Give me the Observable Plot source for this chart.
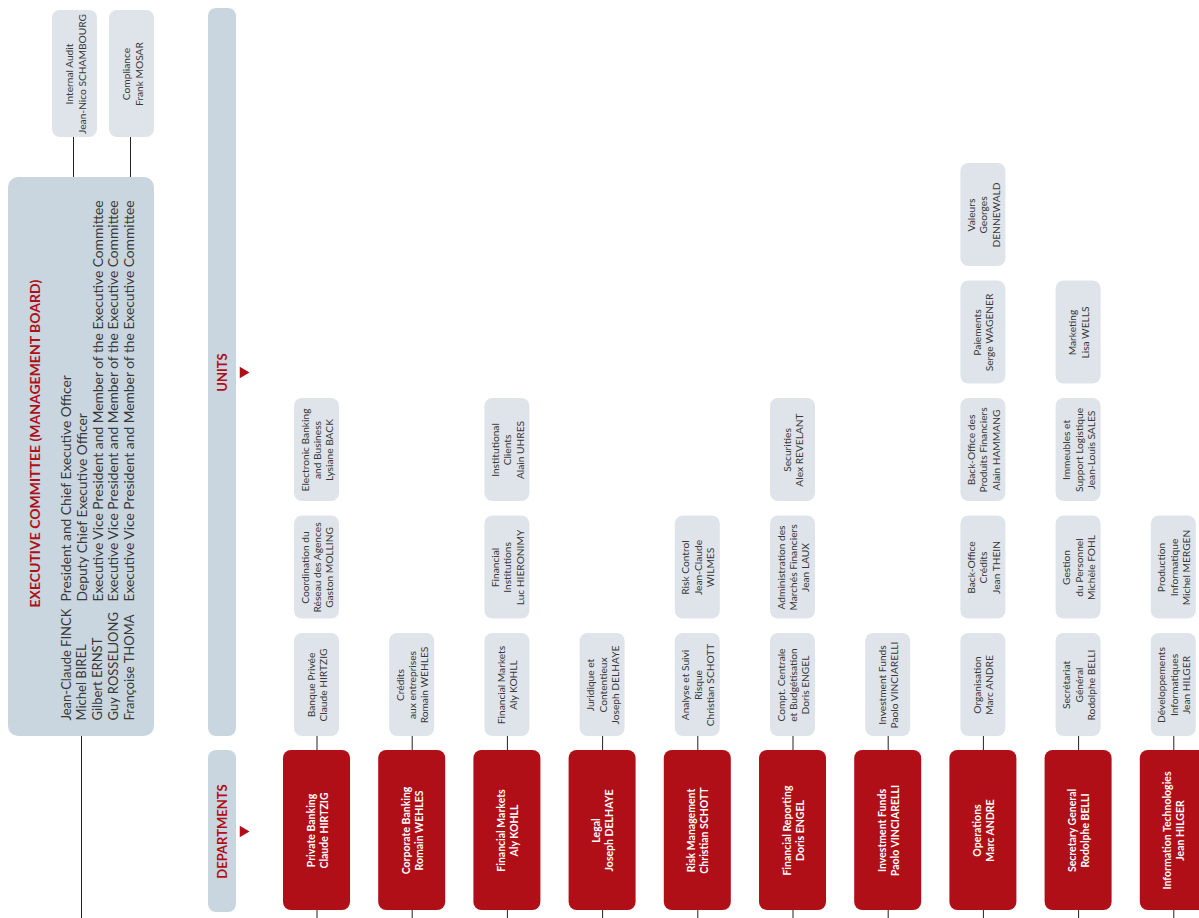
<!DOCTYPE html>
<html><head><meta charset="utf-8">
<script src="https://cdn.jsdelivr.net/npm/d3@7"></script>
<script src="https://cdn.jsdelivr.net/npm/@observablehq/plot@0.6"></script>
<style>body{margin:0;background:#fff}</style>
</head><body><div id="chart"></div>
<script>
// ---- data ----
const deptNames = ["Private Banking","Corporate Banking","Financial Markets","Legal","Risk Management","Financial Reporting","Investment Funds","Operations","Secretary General","Information Technologies"];
const deptHeads = ["Claude HIRTZIG","Romain WEHLES","Aly KOHLL","Joseph DELHAYE","Christian SCHOTT","Doris ENGEL","Paolo VINCIARELLI","Marc ANDRE","Rodolphe BELLI","Jean HILGER"];
const unitsPrivateBanking = ["Banque Privée\nClaude HIRTZIG","Coordination du\nRéseau des Agences\nGaston MOLLING","Electronic Banking\nand Business\nLysiane BACK"];
const unitsCorporateBanking = ["Crédits\naux entreprises\nRomain WEHLES"];
const unitsFinancialMarkets = ["Financial Markets\nAly KOHLL","Financial\nInstitutions\nLuc HIERONIMY","Institutional\nClients\nAlain UHRES"];
const unitsLegal = ["Juridique et\nContentieux\nJoseph DELHAYE"];
const unitsRisk = ["Analyse et Suivi\nRisque\nChristian SCHOTT","Risk Control\nJean-Claude\nWILMES"];
const unitsReporting = ["Compt. Centrale\net Budgétisation\nDoris ENGEL","Administration des\nMarchés Financiers\nJean LAUX","Securities\nAlex REVELANT"];
const unitsFunds = ["Investment Funds\nPaolo VINCIARELLI"];
const unitsOperations = ["Organisation\nMarc ANDRE","Back-Office\nCrédits\nJean THEIN","Back-Office des\nProduits Financiers\nAlain HAMMANG","Paiements\nSerge WAGENER","Valeurs\nGeorges\nDENNEWALD"];
const unitsSecretary = ["Secrétariat\nGénéral\nRodolphe BELLI","Gestion\ndu Personnel\nMichèle FOHL","Immeubles et\nSupport Logistique\nJean-Louis SALES","Marketing\nLisa WELLS"];
const unitsIT = ["Développements\nInformatiques\nJean HILGER","Production\nInformatique\nMichel MERGEN"];
const units = [unitsPrivateBanking,unitsCorporateBanking,unitsFinancialMarkets,unitsLegal,unitsRisk,unitsReporting,unitsFunds,unitsOperations,unitsSecretary,unitsIT];
const execTitle = "EXECUTIVE COMMITTEE (MANAGEMENT BOARD)";
const execNames = ["Jean-Claude FINCK","Michel BIREL","Gilbert ERNST","Guy ROSSELJONG","Françoise THOMA"];
const execRoles = ["President and Chief Executive Officer","Deputy Chief Executive Officer","Executive Vice President and Member of the Executive Committee","Executive Vice President and Member of the Executive Committee","Executive Vice President and Member of the Executive Committee"];
const staffFunctions = ["Internal Audit\nJean-Nico SCHAMBOURG","Compliance\nFrank MOSAR"];
const sectionLabels = ["UNITS","DEPARTMENTS"];

// ---- layout ----
const W = 1199, H = 918;
const RED = "#b00f17", PANEL = "#c9d5df", UNIT = "#dfe4ea", INK = "#383838";
const colX = i => 316.5 + 95.2 * i;
const slotTop = k => 633 - 117.5 * k;
const unitH = 103, unitW = 45, deptW = 67, deptTop = 750, deptBot = 910;
const execBox = {x1: 8, x2: 154, y1: 177, y2: 736};
const staffX = i => 74.5 + 57 * i;
const panelX1 = 208, panelX2 = 236;
const panels = [{label: sectionLabels[0], y1: 8, y2: 736, ly: 372}, {label: sectionLabels[1], y1: 750, y2: 912, ly: 831}];

const depts = deptNames.map((n, i) => ({label: n + "\n" + deptHeads[i], x: colX(i)}));
const unitRows = units.flatMap((list, i) => list.map((u, k) => ({label: u, x: colX(i), y1: slotTop(k), y2: slotTop(k) + unitH})));
const staff = staffFunctions.map((s, i) => ({label: s, x: staffX(i)}));
const execRows = execNames.map((n, i) => ({name: n, role: execRoles[i], x: 66 + 15.8 * i}));

const font = "Lato, 'Open Sans', sans-serif";
const chart = Plot.plot({
  width: W, height: H, margin: 0,
  x: {domain: [0, W], range: [0, W], axis: null},
  y: {domain: [0, H], range: [0, H], axis: null},
  style: {fontFamily: font, background: "#fff"},
  marks: [
    // staff boxes
    Plot.ruleX(staff, {x: d => d.x - 1.5, y1: 137, y2: execBox.y1, stroke: "#222", strokeWidth: 1}),
    Plot.rect(staff, {x1: d => d.x - 22.5, x2: d => d.x + 22.5, y1: 10, y2: 137, fill: UNIT, rx: 8}),
    Plot.text(staff, {x: "x", y: 73.5, text: "label", rotate: -90, fontSize: 10.2, lineHeight: 1.3, fill: INK}),
    // exec committee
    Plot.ruleX([execBox], {x: d => (d.x1 + d.x2) / 2, y1: d => d.y2, y2: H, stroke: "#222", strokeWidth: 1}),
    Plot.rect([execBox], {x1: "x1", x2: "x2", y1: "y1", y2: "y2", fill: PANEL, rx: 10}),
    Plot.text([execTitle], {x: 35, y: 607, text: d => d, rotate: -90, textAnchor: "start", fontSize: 14, fontWeight: "bold", fill: RED}),
    Plot.text(execRows, {x: "x", y: 720, text: "name", rotate: -90, textAnchor: "start", fontSize: 13, fill: INK}),
    Plot.text(execRows, {x: "x", y: 601, text: "role", rotate: -90, textAnchor: "start", fontSize: 13.8, fill: INK}),
    // section panels
    Plot.rect(panels, {x1: panelX1, x2: panelX2, y1: "y1", y2: "y2", fill: PANEL, rx: 8}),
    Plot.text(panels, {x: (panelX1 + panelX2) / 2, y: "ly", text: "label", rotate: -90, fontSize: 13, fontWeight: "bold", fill: RED}),
    Plot.dot(panels, {x: 242.5, y: "ly", symbol: "triangle", rotate: 90, r: 4.2, fill: RED, stroke: null}),
    // connectors
    Plot.ruleX(depts, {x: "x", y1: slotTop(0) + unitH, y2: deptTop, stroke: "#222", strokeWidth: 1}),
    Plot.ruleX(depts, {x: "x", y1: deptBot, y2: H, stroke: "#222", strokeWidth: 1}),
    // units
    Plot.rect(unitRows, {x1: d => d.x - unitW / 2, x2: d => d.x + unitW / 2, y1: "y1", y2: "y2", fill: UNIT, rx: 8}),
    Plot.text(unitRows, {x: "x", y: d => (d.y1 + d.y2) / 2, text: "label", rotate: -90, fontSize: 10.2, lineHeight: 1.2, fill: INK}),
    // departments
    Plot.rect(depts, {x1: d => d.x - deptW / 2, x2: d => d.x + deptW / 2, y1: deptTop, y2: deptBot, fill: RED, rx: 8}),
    Plot.text(depts, {x: "x", y: (deptTop + deptBot) / 2, text: "label", rotate: -90, fontSize: 10.5, lineHeight: 1.24, fontWeight: "bold", fill: "#fff"})
  ]
});
document.getElementById("chart").append(chart);
</script>
</body></html>
